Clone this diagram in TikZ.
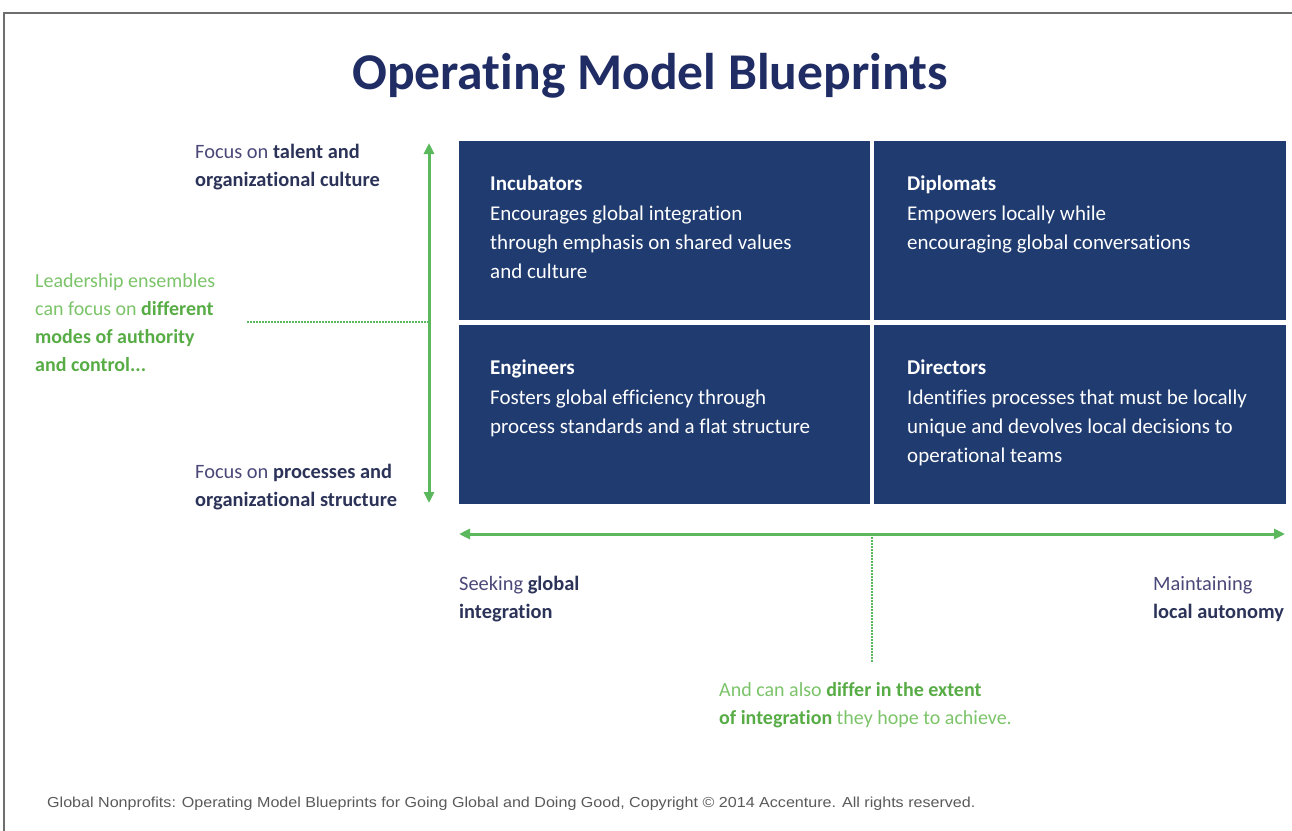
\documentclass[tikz,border=0pt]{standalone}
\usepackage{fontspec}
\setmainfont[Ligatures=NoCommon]{Carlito}
\newfontfamily\footfont[FakeStretch=1.11]{Liberation Sans}
\usetikzlibrary{arrows.meta}
\definecolor{navy}{HTML}{1F3B70}
\definecolor{titleblue}{HTML}{1F2D64}
\definecolor{grn}{HTML}{5CB85C}
\definecolor{grntxt}{HTML}{7CC46A}
\definecolor{grnbold}{HTML}{58AC46}
\definecolor{lbl}{HTML}{4A4878}
\definecolor{lblb}{HTML}{2C3358}
\definecolor{frame}{HTML}{6E6E6E}
\definecolor{foot}{HTML}{5A5A5A}
\newcommand{\lb}[1]{{\bfseries\color{lblb}#1}}
\newcommand{\gb}[1]{{\bfseries\color{grnbold}#1}}
\begin{document}
\begin{tikzpicture}[x=1pt,y=-1pt,
  quad/.style={fill=navy, draw=none, minimum width=411pt, minimum height=179pt, anchor=north west, inner sep=0pt},
  quadtext/.style={text=white, align=left, anchor=north west, inner sep=0pt, font=\fontsize{21}{29.3}\selectfont},
  sidelabel/.style={text=lbl, align=left, anchor=north west, inner sep=0pt, font=\fontsize{20.4}{28}\selectfont},
  greenlabel/.style={text=grntxt, align=left, anchor=north west, inner sep=0pt, font=\fontsize{20}{28}\selectfont},
  axisarrow/.style={draw=grn, line width=3pt, {Triangle[length=11pt,width=10pt]}-{Triangle[length=11pt,width=10pt]}},
  dotline/.style={draw=grn, line width=2.2pt, dash pattern=on 1.5pt off 1.5pt}
]
\useasboundingbox (0,0) rectangle (1292,830);
\fill[white] (0,0) rectangle (1292,830);
\draw[frame, line width=2pt] (4,831) -- (4,13) -- (1293,13);

\node[text=titleblue, anchor=base, inner sep=0pt, font=\fontsize{51.6}{60}\selectfont\bfseries] (title) at (650,89) {Operating Model Blueprints};

% quadrants
\node[quad] (inc) at (459,141) {};
\node[quad, minimum width=412pt] (dip) at (874,141) {};
\node[quad] (eng) at (459,325) {};
\node[quad, minimum width=412pt] (dir) at (874,325) {};

\node[quadtext] (inct) at (490,176) {\textbf{Incubators}\\Encourages global integration\\through emphasis on shared values\\and culture};
\node[quadtext] (dipt) at (907,176) {\textbf{Diplomats}\\Empowers locally while\\encouraging global conversations};
\node[quadtext] (engt) at (490,360) {\textbf{Engineers}\\Fosters global efficiency through\\process standards and a flat structure};
\node[quadtext] (dirt) at (907,360) {\textbf{Directors}\\Identifies processes that must be locally\\unique and devolves local decisions to\\operational teams};

% axes
\coordinate (vtop) at (429,143);
\coordinate (vbot) at (429,503);
\coordinate (vmid) at (429,322);
\coordinate (ldot) at (247,322);
\coordinate (hleft) at (459,534);
\coordinate (hright) at (1285,534);
\coordinate (hmid) at (872,534);
\coordinate (bdot) at (872,662);

\draw[axisarrow] (vtop) -- (vbot);
\draw[axisarrow] (hleft) -- (hright);
\draw[dotline] (ldot) -- (vmid);
\draw[dotline] (hmid) -- (bdot);

% labels
\node[sidelabel] (ltop) at (195,144) {Focus on \lb{talent and}\\\lb{organizational culture}};
\node[sidelabel] (lbot) at (195,464) {Focus on \lb{processes and}\\\lb{organizational structure}};
\node[greenlabel] (lmid) at (35,273) {Leadership ensembles\\can focus on \gb{different}\\\gb{modes of authority}\\\gb{and control...}};
\node[sidelabel] (hlab1) at (459,576) {Seeking \lb{global}\\\lb{integration}};
\node[sidelabel] (hlab2) at (1153,576) {Maintaining\\\lb{local autonomy}};
\node[greenlabel] (blab) at (719,682) {And can also \gb{differ in the extent}\\\gb{of integration} they hope to achieve.};

\node[text=foot, anchor=base west, inner sep=0pt, font=\footfont\fontsize{14.5}{16}\selectfont] (footer) at (47,807) {Global Nonprofits: Operating Model Blueprints for Going Global and Doing Good, Copyright \textcopyright\ 2014 Accenture. All rights reserved.};
\end{tikzpicture}
\end{document}
